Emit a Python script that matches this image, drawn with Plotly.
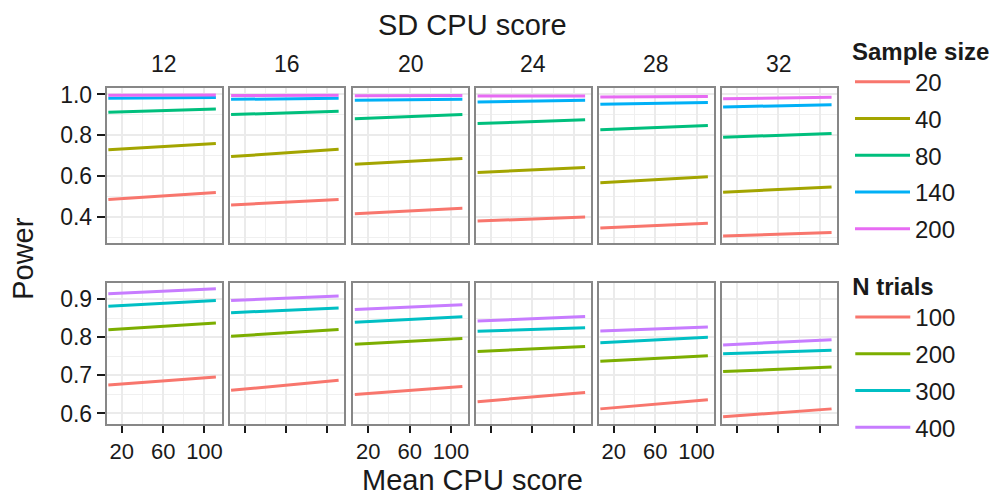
import plotly.graph_objects as go

# ---------------- data ----------------
sd_cpu = ["12", "16", "20", "24", "28", "32"]
mean_cpu = [7, 111]  # low / high mean CPU score of each fitted line

sample_sizes = ["20", "40", "80", "140", "200"]
ss_colors = ["#F8766D", "#A3A500", "#00BF7D", "#00B0F6", "#E76BF3"]
# power at (low, high) mean CPU, one pair per SD CPU panel
power_ss20 = [(0.485, 0.519), (0.458, 0.484), (0.414, 0.442), (0.379, 0.398), (0.344, 0.368), (0.305, 0.323)]
power_ss40 = [(0.729, 0.759), (0.695, 0.731), (0.658, 0.686), (0.617, 0.641), (0.567, 0.596), (0.520, 0.546)]
power_ss80 = [(0.913, 0.929), (0.901, 0.917), (0.881, 0.901), (0.857, 0.876), (0.827, 0.848), (0.790, 0.808)]
power_ss140 = [(0.981, 0.985), (0.976, 0.981), (0.971, 0.976), (0.963, 0.971), (0.952, 0.961), (0.939, 0.949)]
power_ss200 = [(0.996, 0.997), (0.995, 0.996), (0.994, 0.995), (0.992, 0.993), (0.987, 0.990), (0.979, 0.986)]

n_trials = ["100", "200", "300", "400"]
nt_colors = ["#F8766D", "#7CAE00", "#00BFC4", "#C77CFF"]
power_nt100 = [(0.675, 0.696), (0.661, 0.687), (0.650, 0.671), (0.631, 0.655), (0.612, 0.636), (0.591, 0.612)]
power_nt200 = [(0.820, 0.838), (0.803, 0.821), (0.782, 0.797), (0.763, 0.776), (0.737, 0.752), (0.710, 0.722)]
power_nt300 = [(0.882, 0.897), (0.865, 0.877), (0.840, 0.854), (0.816, 0.825), (0.786, 0.800), (0.757, 0.766)]
power_nt400 = [(0.915, 0.928), (0.897, 0.909), (0.873, 0.886), (0.843, 0.855), (0.817, 0.827), (0.780, 0.794)]

x_ticks = [20, 60, 100]
x_minor = [40, 80]
y_top_ticks = [0.4, 0.6, 0.8, 1.0]
y_top_minor = [0.3, 0.5, 0.7, 0.9]
y_bot_ticks = [0.6, 0.7, 0.8, 0.9]
y_bot_minor = [0.65, 0.75, 0.85]

ss_series = [power_ss20, power_ss40, power_ss80, power_ss140, power_ss200]
nt_series = [power_nt100, power_nt200, power_nt300, power_nt400]

# ---------------- layout geometry (pixels) ----------------
W, H = 992, 501
FONT = "Liberation Sans"
col_px = [(107, 222), (230, 345), (354, 469), (477, 592), (600, 715), (723, 839)]
top_px = (83, 241)
bot_px = (282, 425)


def xd(a, b):
    return [a / W, b / W]


def yd(t, b):
    return [1 - b / H, 1 - t / H]


fig = go.Figure()

for c in range(6):
    n_top = c + 1
    n_bot = c + 7
    for k, ser in enumerate(ss_series):
        fig.add_trace(go.Scatter(
            x=mean_cpu, y=list(ser[c]), mode="lines",
            line=dict(color=ss_colors[k], width=3),
            name=sample_sizes[k], legendgroup="ss" + sample_sizes[k],
            legend="legend", showlegend=(c == 0),
            xaxis="x" if n_top == 1 else f"x{n_top}",
            yaxis="y" if n_top == 1 else f"y{n_top}",
            hoverinfo="skip"))
    for k, ser in enumerate(nt_series):
        fig.add_trace(go.Scatter(
            x=mean_cpu, y=list(ser[c]), mode="lines",
            line=dict(color=nt_colors[k], width=3),
            name=n_trials[k], legendgroup="nt" + n_trials[k],
            legend="legend2", showlegend=(c == 0),
            xaxis=f"x{n_bot}", yaxis=f"y{n_bot}",
            hoverinfo="skip"))

xtickfont = dict(family=FONT, size=22, color="#1a1a1a")
ytickfont = dict(family=FONT, size=23, color="#1a1a1a")
layout = {}
for c in range(6):
    for row in (0, 1):
        n = c + 1 + 6 * row
        xk = "xaxis" if n == 1 else f"xaxis{n}"
        yk = "yaxis" if n == 1 else f"yaxis{n}"
        bottom = row == 1
        xa = dict(
            domain=xd(*col_px[c]), anchor="y" if n == 1 else f"y{n}",
            range=[5.5, 116.5], showline=True, mirror=True,
            linecolor="#878787", linewidth=2,
            showgrid=True, gridcolor="#ebebeb", gridwidth=2,
            tickvals=x_ticks, zeroline=False,
            minor=dict(tickvals=x_minor, showgrid=True, gridcolor="#f0f0f0", gridwidth=1, ticks=""),
            tickfont=xtickfont, fixedrange=True,
        )
        if bottom:
            xa.update(ticks="outside", ticklen=7, tickwidth=2, tickcolor="#1a1a1a",
                      ticktext=[str(v) for v in x_ticks] if c % 2 == 0 else ["", "", ""],
                      showticklabels=True)
        else:
            xa.update(ticks="", showticklabels=False)
        ya = dict(
            domain=yd(*(bot_px if bottom else top_px)),
            anchor="x" if n == 1 else f"x{n}",
            range=[0.5735, 0.942] if bottom else [0.27, 1.03],
            showline=True, mirror=True, linecolor="#878787", linewidth=2,
            showgrid=True, gridcolor="#ebebeb", gridwidth=2, zeroline=False,
            tickvals=y_bot_ticks if bottom else y_top_ticks,
            minor=dict(tickvals=y_bot_minor if bottom else y_top_minor, showgrid=True,
                       gridcolor="#f0f0f0", gridwidth=1, ticks=""),
            tickformat=".1f", tickfont=ytickfont, fixedrange=True,
        )
        if c == 0:
            ya.update(ticks="outside", ticklen=8, tickwidth=2, tickcolor="#1a1a1a",
                      showticklabels=True)
        else:
            ya.update(ticks="", showticklabels=False)
        layout[xk] = xa
        layout[yk] = ya

annotations = []
for c in range(6):
    a, b = col_px[c]
    annotations.append(dict(text=sd_cpu[c], x=(a + b) / 2 / W, y=1 - 58 / H,
                            xref="paper", yref="paper", showarrow=False,
                            font=dict(family=FONT, size=23, color="#1a1a1a"),
                            xanchor="center", yanchor="middle"))
annotations.append(dict(text="SD CPU score", x=473 / W, y=1 - 18 / H, xref="paper", yref="paper",
                        showarrow=False, font=dict(family=FONT, size=29, color="#1a1a1a"),
                        xanchor="center", yanchor="middle"))
annotations.append(dict(text="Mean CPU score", x=473 / W, y=1 - 483 / H, xref="paper", yref="paper",
                        showarrow=False, font=dict(family=FONT, size=29, color="#1a1a1a"),
                        xanchor="center", yanchor="middle"))
annotations.append(dict(text="Power", x=23 / W, y=1 - 256 / H, xref="paper", yref="paper",
                        showarrow=False, textangle=-90,
                        font=dict(family=FONT, size=29, color="#1a1a1a"),
                        xanchor="center", yanchor="middle"))

legend_common = dict(
    xanchor="left", yanchor="top", bgcolor="rgba(0,0,0,0)",
    font=dict(family=FONT, size=24, color="#1a1a1a"),
    tracegroupgap=2.5, traceorder="grouped", itemwidth=55,
)

fig.update_layout(
    width=W, height=H,
    margin=dict(l=0, r=0, t=0, b=0),
    paper_bgcolor="white", plot_bgcolor="white",
    showlegend=True,
    annotations=annotations,
    legend=dict(x=852 / W, y=1 - 22 / H,
                title=dict(text="<b>Sample size</b>", font=dict(family=FONT, size=24, color="#1a1a1a")),
                **legend_common),
    legend2=dict(x=852 / W, y=1 - 262 / H,
                 title=dict(text="<b>N trials</b>", font=dict(family=FONT, size=24, color="#1a1a1a")),
                 **legend_common),
    **layout,
)

fig.write_html(
    "out.html",
    config={"displayModeBar": False},
    post_script="document.body.style.margin='0';document.body.style.overflow='hidden';",
)
